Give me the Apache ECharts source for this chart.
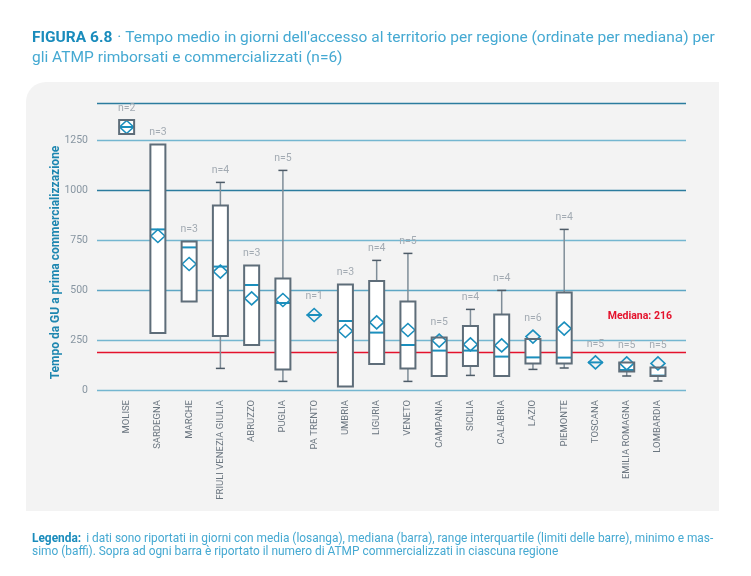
<!DOCTYPE html>
<html>
<head>
<meta charset="utf-8">
<script src="https://cdn.jsdelivr.net/npm/echarts@6.0.0/dist/echarts.min.js"></script>
<style>html,body{margin:0;padding:0;background:#fff}#chart{width:751px;height:576px}</style>
</head>
<body>
<div id="chart"></div>
<script>
const categories = ['MOLISE','SARDEGNA','MARCHE','FRIULI VENEZIA GIULIA','ABRUZZO','PUGLIA','PA TRENTO','UMBRIA','LIGURIA','VENETO','CAMPANIA','SICILIA','CALABRIA','LAZIO','PIEMONTE','TOSCANA','EMILIA ROMAGNA','LOMBARDIA'];
const minVals    = [1280, 285, 442, 108, 225,  43, 375,  17, 130,  43,  70,  73,  70, 103, 110, 138,  70,  45];
const q1Vals     = [1280, 285, 442, 270, 225, 103, 375,  17, 130, 108,  70, 120,  70, 133, 133, 138,  92,  70];
const medianVals = [1315, 803, 713, 617, 525, 435, 375, 345, 287, 225, 197, 197, 167, 163, 162, 138, 100,  72];
const q3Vals     = [1350,1228, 742, 922, 622, 558, 375, 528, 545, 442, 262, 320, 377, 255, 487, 138, 137, 113];
const maxVals    = [1350,1228, 742,1038, 622,1098, 375, 528, 648, 683, 262, 403, 498, 255, 803, 138, 137, 113];
const meanVals   = [1315, 770, 630, 592, 458, 450, 375, 295, 338, 300, 247, 228, 223, 267, 307, 138, 133, 133];
const nVals      = [2, 3, 3, 4, 3, 5, 1, 3, 4, 5, 5, 4, 4, 6, 4, 5, 5, 5];
const yTicks = [0, 250, 500, 750, 1000, 1250];
const medianLineValue = 188;
const medianLabel = 'Mediana: 216';

const FONT = "Roboto, 'Liberation Sans', sans-serif";
const Y_MAX = 1435;

const chart = echarts.init(document.getElementById('chart'), null, {renderer: 'canvas'});

const boxData = categories.map((c, i) => [i, minVals[i], q1Vals[i], medianVals[i], q3Vals[i], maxVals[i], meanVals[i], nVals[i]]);

function renderBox(params, api) {
  const i = api.value(0);
  const mn = api.value(1), q1 = api.value(2), md = api.value(3), q3 = api.value(4), mx = api.value(5), mean = api.value(6), n = api.value(7);
  const P = v => api.coord([i, v]);
  const x = P(md)[0];
  const yq1 = P(q1)[1], yq3 = P(q3)[1], ymd = P(md)[1], ymn = P(mn)[1], ymx = P(mx)[1], ymean = P(mean)[1];
  const hw = 7.5, cap = 4.5, dw = 7, dh = 6.5;
  const ch = [];
  const whisker = '#7f8d98', capCol = '#4d5b67', boxCol = '#5e6d79', blue = '#1b8fbd';
  if (mx > q3) {
    ch.push({type:'line', shape:{x1:x, y1:yq3, x2:x, y2:ymx}, style:{stroke:whisker, lineWidth:1.5}});
    ch.push({type:'line', shape:{x1:x-cap, y1:ymx, x2:x+cap, y2:ymx}, style:{stroke:capCol, lineWidth:1.5}});
  }
  if (mn < q1) {
    ch.push({type:'line', shape:{x1:x, y1:yq1, x2:x, y2:ymn}, style:{stroke:whisker, lineWidth:1.5}});
    ch.push({type:'line', shape:{x1:x-cap, y1:ymn, x2:x+cap, y2:ymn}, style:{stroke:capCol, lineWidth:1.5}});
  }
  const hasBox = (q3 - q1) > 1;
  if (hasBox) {
    ch.push({type:'rect', shape:{x:x-hw, y:yq3, width:2*hw, height:yq1-yq3}, style:{fill:'#ffffff', stroke:null}});
  }
  ch.push({type:'polygon', shape:{points:[[x, ymean-dh],[x+dw, ymean],[x, ymean+dh],[x-dw, ymean]]}, style:{fill:'none', stroke:blue, lineWidth:1.6}});
  ch.push({type:'line', shape:{x1:x-hw, y1:ymd, x2:x+hw, y2:ymd}, style:{stroke:blue, lineWidth:2}});
  if (hasBox) {
    ch.push({type:'rect', shape:{x:x-hw, y:yq3, width:2*hw, height:yq1-yq3}, style:{fill:'none', stroke:boxCol, lineWidth:2}});
  }
  const topY = Math.min(ymx, yq3, ymean - dh);
  ch.push({type:'text', style:{text:'n=' + n, x:x, y:topY - 12, align:'center', verticalAlign:'middle', fill:'#a3abb3', font:'10.5px ' + FONT}});
  return {type:'group', children:ch};
}

const option = {
  backgroundColor: '#ffffff',
  animation: false,
  title: [{
    left: 27, top: 23,
    text: '{b|FIGURA 6.8} {r|· Tempo medio in giorni dell\'accesso al territorio per regione (ordinate per mediana) per}\n{r|gli ATMP rimborsati e commercializzati (n=6)}',
    textStyle: {
      lineHeight: 20,
      rich: {
        b: {fontFamily: FONT, fontWeight: 'bold', fontSize: 15.5, color: '#1a8cbc', lineHeight: 20},
        r: {fontFamily: FONT, fontWeight: 'normal', fontSize: 15.5, color: '#45a9d2', lineHeight: 20}
      }
    }
  }, {
    left: 27, top: 528,
    text: '{b|Legenda:} {r|i dati sono riportati in giorni con media (losanga), mediana (barra), range interquartile (limiti delle barre), minimo e mas-}\n{r|simo (baffi). Sopra ad ogni barra è riportato il numero di ATMP commercializzati in ciascuna regione}',
    textStyle: {
      lineHeight: 13,
      rich: {
        b: {fontFamily: FONT, fontWeight: 'bold', fontSize: 11.9, color: '#1a8cbc', lineHeight: 13},
        r: {fontFamily: FONT, fontWeight: 'normal', fontSize: 11.9, color: '#45a9d2', lineHeight: 13}
      }
    }
  }],
  graphic: [{
    type: 'rect', z: -10, silent: true,
    shape: {x: 26, y: 82, width: 693, height: 429, r: [20, 0, 0, 0]},
    style: {fill: '#f3f3f3'}
  }],
  grid: [
    {left: 97, right: 65, top: 390 - Y_MAX * 0.2, bottom: 186},
    {left: 111, right: 77.4, top: 390 - Y_MAX * 0.2, bottom: 186}
  ],
  xAxis: [
    {gridIndex: 0, type: 'value', min: 0, max: 1, show: false},
    {gridIndex: 1, type: 'category', data: categories,
      axisLine: {show: false}, axisTick: {show: false},
      axisLabel: {rotate: 90, interval: 0, margin: 10, color: '#6b7680', fontSize: 9.5, fontFamily: FONT}}
  ],
  yAxis: [
    {gridIndex: 0, type: 'value', min: 0, max: Y_MAX, interval: 250,
      name: 'Tempo da GU a prima commercializzazione', nameLocation: 'middle', nameGap: 35, nameMoveOverlap: false,
      nameTextStyle: {color: '#1d86b0', fontWeight: 'bold', fontSize: 12, fontFamily: FONT, padding: [0, 32, 0, 0]},
      axisLine: {show: false}, axisTick: {show: false},
      axisLabel: {margin: 9, color: '#8795a1', fontSize: 10.5, fontFamily: FONT,
        formatter: v => yTicks.indexOf(v) >= 0 ? String(v) : ''},
      splitLine: {show: true, lineStyle: {width: 1.4, color: ['#74b6d0', '#74b6d0', '#5ea6c4', '#74b6d0', '#2b7c9e', '#74b6d0', '#2b7c9e']}}
    },
    {gridIndex: 1, type: 'value', min: 0, max: Y_MAX, show: false, splitLine: {show: false}}
  ],
  series: [
    {
      type: 'line', xAxisIndex: 0, yAxisIndex: 0, data: [], silent: true,
      markLine: {
        symbol: 'none', silent: true, animation: false,
        lineStyle: {color: '#e4122c', width: 1.4, type: 'solid'},
        label: {show: true, position: 'insideEndTop', formatter: medianLabel, color: '#e4122c', fontWeight: 'bold', fontSize: 10.5, fontFamily: FONT, distance: [14, 31]},
        data: [{yAxis: medianLineValue}]
      }
    },
    {
      type: 'custom', xAxisIndex: 1, yAxisIndex: 1, data: boxData,
      encode: {x: 0, y: [1, 5]},
      renderItem: renderBox, z: 5
    }
  ]
};
chart.setOption(option);
</script>
</body>
</html>
